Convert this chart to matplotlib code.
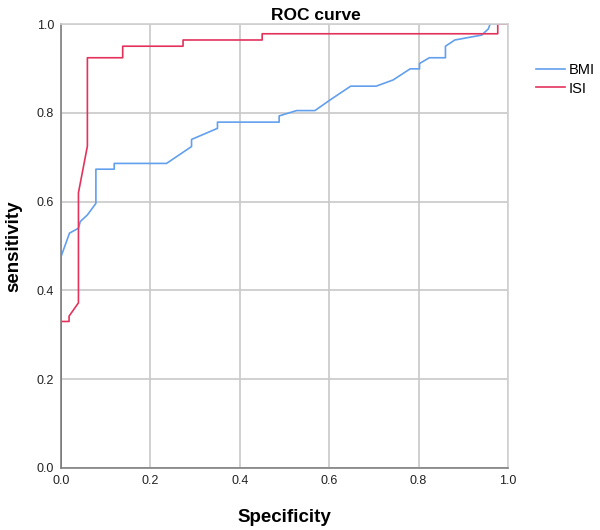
import numpy as np
import matplotlib
matplotlib.use("Agg")
import matplotlib.pyplot as plt

plt.rcParams['font.family'] = ['Liberation Sans', 'DejaVu Sans']

# ROC points (x = Specificity axis, y = sensitivity)
bmi_x = [0.0, 0.0, 0.0, 0.019, 0.039, 0.043, 0.059, 0.078, 0.078, 0.119, 0.119,
         0.234, 0.236, 0.292, 0.292, 0.350, 0.350, 0.488, 0.488, 0.527, 0.568,
         0.602, 0.648, 0.705, 0.743, 0.781, 0.802, 0.802, 0.824, 0.860, 0.860,
         0.881, 0.941, 0.956, 0.960, 1.0]
bmi_y = [0.0, 0.33, 0.476, 0.529, 0.540, 0.555, 0.570, 0.596, 0.673, 0.673, 0.686,
         0.686, 0.686, 0.724, 0.740, 0.765, 0.779, 0.779, 0.793, 0.805, 0.805,
         0.829, 0.860, 0.860, 0.874, 0.899, 0.899, 0.911, 0.924, 0.924, 0.950,
         0.964, 0.975, 0.989, 1.0, 1.0]

isi_x = [0.0, 0.0, 0.018, 0.018, 0.039, 0.039, 0.059, 0.059, 0.138, 0.138,
         0.273, 0.273, 0.450, 0.450, 0.977, 0.977, 1.0]
isi_y = [0.0, 0.33, 0.33, 0.342, 0.372, 0.62, 0.725, 0.924, 0.924, 0.950,
         0.950, 0.964, 0.964, 0.978, 0.978, 1.0, 1.0]

ticks = [0.0, 0.2, 0.4, 0.6, 0.8, 1.0]

fig = plt.figure(figsize=(6, 5.3), dpi=100)
ax = fig.add_axes([0.1017, 0.117, 0.745, 0.8377])

ax.plot(bmi_x, bmi_y, color='#62a0ee', lw=1.2, label='BMI')
ax.plot(isi_x, isi_y, color='#e3335c', lw=1.2, label='ISI')

ax.set_xlim(0, 1)
ax.set_ylim(0, 1)
ax.set_xticks(ticks)
ax.set_yticks(ticks)
ax.set_xticklabels(['%.1f' % t for t in ticks])
ax.set_yticklabels(['%.1f' % t for t in ticks])
ax.tick_params(length=0, labelsize=9, pad=5, colors='#222222')
ax.grid(True, color='#c8c8c8', lw=1.2)
ax.set_axisbelow(True)

for s in ['left', 'bottom']:
    ax.spines[s].set_color('#808080')
    ax.spines[s].set_linewidth(1.2)
for s in ['top', 'right']:
    ax.spines[s].set_color('#d0d0d0')
    ax.spines[s].set_linewidth(1.2)

ax.set_xlabel('Specificity', fontsize=13.5, fontweight='bold', labelpad=16)
ax.set_ylabel('sensitivity', fontsize=13.5, fontweight='bold', labelpad=10)
ax.set_title('ROC curve', fontsize=12.5, fontweight='bold', x=0.57, pad=3)

ax.legend(loc='upper left', bbox_to_anchor=(1.05, 0.925), frameon=False,
          fontsize=10.5, handlelength=2.0, handletextpad=0.2, labelspacing=0.3,
          borderaxespad=0)

fig.savefig('out.png', dpi=100)
